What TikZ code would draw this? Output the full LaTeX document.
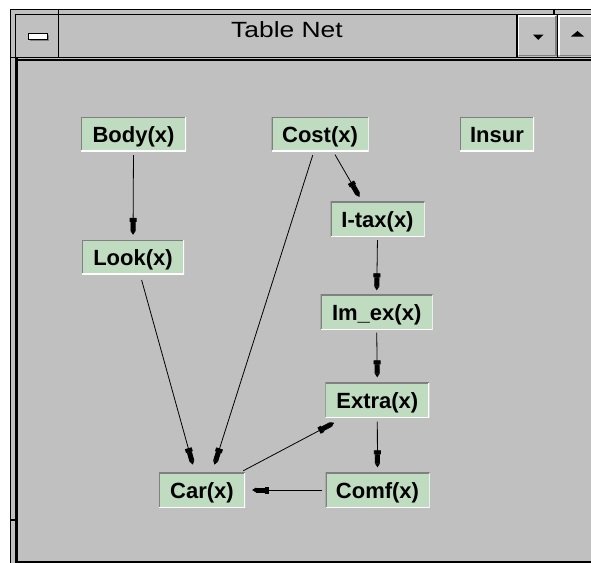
\documentclass[tikz,border=0pt]{standalone}
\usepackage{fontspec}
\setmainfont{Liberation Sans}
\usetikzlibrary{arrows.meta}
\definecolor{wingray}{HTML}{C0C0C0}
\definecolor{boxgreen}{HTML}{C0DCC0}
\definecolor{wdark}{HTML}{808080}
\tikzset{
  nbox/.style={fill=boxgreen, inner sep=0pt, minimum height=34pt,
    text height=16pt, text depth=0pt,
    font=\bfseries\fontsize{22}{22}\selectfont,
    path picture={
      \draw[wdark, fill=none, line width=2pt] (path picture bounding box.south west) -- (path picture bounding box.north west) -- (path picture bounding box.north east);
      \draw[white, fill=none, line width=2pt] (path picture bounding box.north east) -- (path picture bounding box.south east) -- (path picture bounding box.south west);
    }},
  arr/.style={line width=0.8pt, -{Rectangle[length=4pt,width=7pt]Rectangle[length=9pt,width=5pt]Triangle[length=4pt,width=5pt]}},
  frame/.style={black, line width=1.3pt},
}
\begin{document}
\begin{tikzpicture}[x=1pt, y=-1pt]
\useasboundingbox (0,0) rectangle (591,562);
% window
\fill[white] (0,0) rectangle (591,562);
\fill[wingray] (10,9) rectangle (595,570);
\draw[frame] (10.5,570) -- (10.5,9.5) -- (595,9.5);
\draw[frame] (15.5,57) -- (15.5,14.5) -- (595,14.5);
\draw[frame] (10,57.5) -- (595,57.5);
\draw[frame] (58.5,9) -- (58.5,57);
\draw[frame] (554,9) -- (554,14);
\draw[frame] (10,520) -- (15,520);
% client border
\draw[black, line width=2.5pt] (16.5,570) -- (16.5,58);
\draw[black, line width=2pt] (16,59.5) -- (595,59.5);
\draw[black, line width=2pt] (16,561.5) -- (595,561.5);
% system menu button
\fill[wdark] (29.5,34.5) rectangle (48.5,40.5);
\draw[black, fill=white, line width=1pt] (28,33) rectangle (47,39);
% down / up buttons
\draw[frame] (517,14) -- (517,57);
\draw[frame] (557.5,14) -- (557.5,57);
\draw[white, line width=1.5pt] (518.5,55) -- (518.5,16) -- (556,16);
\draw[wdark, line width=1.5pt] (519,55.5) -- (556,55.5) -- (556,16);
\draw[white, line width=1.5pt] (559,55) -- (559,16) -- (595,16);
\draw[wdark, line width=1.5pt] (559.5,55.5) -- (595,55.5);
\fill[black] (533,34.5) -- (543.5,34.5) -- (538.25,40) -- cycle;
\fill[black] (571,36.5) -- (584,36.5) -- (577.5,31) -- cycle;
% title
\node[font=\fontsize{22}{22}\selectfont, anchor=base] (title) at (287,37) {\scalebox{1.2}[1]{Table Net}};
% nodes
\node[nbox, minimum width=105pt] (Body) at (133.5,134) {Body(x)};
\node[nbox, minimum width=102pt] (Look) at (133,257) {Look(x)};
\node[nbox, minimum width=97pt] (Cost) at (320,134) {Cost(x)};
\node[nbox, minimum width=74pt] (Insur) at (497,134) {Insur};
\node[nbox, minimum width=94pt, minimum height=35pt] (Itax) at (377.5,219) {I-tax(x)};
\node[nbox, minimum width=112pt, minimum height=35pt] (Imex) at (376.7,312) {Im\_ex(x)};
\node[nbox, minimum width=104pt, minimum height=35pt] (Extra) at (377.3,400) {Extra(x)};
\node[nbox, minimum width=86pt, minimum height=35pt] (Car) at (202,490) {Car(x)};
\node[nbox, minimum width=104pt, minimum height=35pt] (Comf) at (377.5,490) {Comf(x)};
% edges
\draw[arr, shorten <=4pt, shorten >=5pt] (Body.south) -- (Look.north);
\draw[arr, shorten <=6pt, shorten >=8pt] ([xshift=7pt]Look.south) -- ([xshift=-7pt]Car.north);
\draw[arr, shorten <=4pt, shorten >=8pt] ([xshift=-6pt]Cost.south) -- ([xshift=10pt]Car.north);
\draw[arr, shorten <=4pt, shorten >=5pt] ([xshift=13pt]Cost.south) -- ([xshift=-15.5pt]Itax.north);
\draw[arr, shorten <=3.5pt, shorten >=4pt] (Itax.south) -- (Imex.north);
\draw[arr, shorten <=3pt, shorten >=5pt] (Imex.south) -- (Extra.north);
\draw[arr, shorten <=4pt, shorten >=5pt] (Extra.south) -- (Comf.north);
\draw[arr, shorten <=3pt, shorten >=7pt] (Comf.west) -- (Car.east);
\draw[arr] ([xshift=-2pt,yshift=1.5pt]Car.north east) -- ([xshift=9pt,yshift=-5pt]Extra.south west);
\end{tikzpicture}
\end{document}
